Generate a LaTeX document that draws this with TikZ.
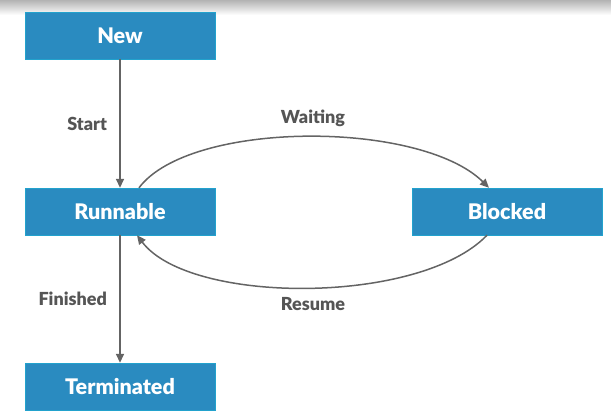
\documentclass[tikz,border=0pt]{standalone}
\usepackage{fontspec}
\setmainfont{Lato}[BoldFont={Lato Black}]
\usetikzlibrary{arrows.meta}
\definecolor{boxblue}{RGB}{42,139,192}
\definecolor{linegray}{RGB}{100,100,100}
\definecolor{textgray}{RGB}{85,85,85}
\tikzset{
  state/.style={rectangle,fill=boxblue,draw=boxblue!80!cyan,minimum width=190pt,minimum height=47pt,text=white,font=\fontsize{21.5}{23}\selectfont\bfseries},
  trans/.style={-{Triangle[length=9pt,width=8pt]},linegray,line width=1.5pt},
  lbl/.style={text=textgray,font=\fontsize{18}{20}\selectfont\bfseries}
}

\begin{document}
\begin{tikzpicture}[x=1pt,y=-1pt]
\useasboundingbox (0,0) rectangle (611,420);
\shade[top color=black!30,bottom color=white] (0,0) rectangle (611,15);

\node[state] (new) at (120,35.5){New};
\node[state] (run) at (120,211.5){Runnable};
\node[state] (blk) at (507,211.5){Blocked};
\node[state] (term) at (120,386.5){Terminated};

\draw [trans] (new) -- node[lbl,left=9pt] (start) {Start} (run);
\draw [trans] (run) -- node[lbl,left=9pt] (fin) {Finished} (term);

\draw [trans] ([xshift=19pt]run.north) .. controls (190,120) and (420,120) .. ([xshift=-18pt]blk.north);
\draw [trans] ([xshift=-20pt]blk.south) .. controls (420,305) and (190,305) .. ([xshift=17pt]run.south);

\node[lbl] (wait) at (313,118){Waiting};
\node[lbl] (res) at (313,304){Resume};

\end{tikzpicture}
\end{document}
